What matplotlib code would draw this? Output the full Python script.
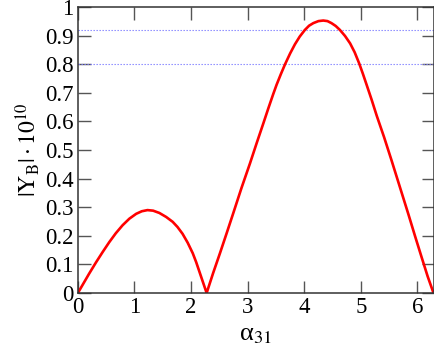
import matplotlib
matplotlib.use("Agg")
from matplotlib import pyplot as plt

plt.rcParams["font.family"] = ["Liberation Serif", "DejaVu Serif"]
plt.rcParams["mathtext.fontset"] = "stix"

# values
alpha = [0.0, 0.1, 0.2, 0.32, 0.44, 0.555, 0.67, 0.79, 0.91, 1.03, 1.13,
         1.23, 1.33, 1.44, 1.56, 1.675, 1.76, 1.85, 1.94, 2.03, 2.09, 2.145,
         2.21, 2.275,
         2.39, 2.51, 2.63, 2.745, 2.89, 3.04, 3.16, 3.276, 3.365, 3.45, 3.51,
         3.585, 3.66, 3.75, 3.835, 3.92, 4.01, 4.085, 4.16, 4.25, 4.335, 4.41,
         4.48, 4.555, 4.63, 4.72, 4.81, 4.89, 4.97, 5.035, 5.10, 5.19, 5.28,
         5.41, 5.54, 5.69, 5.84, 5.96, 6.07, 6.18, 6.283]
yb = [0.0, 0.034, 0.068, 0.107, 0.144, 0.178, 0.209, 0.237, 0.26, 0.277, 0.286,
      0.29, 0.288, 0.28, 0.266, 0.249, 0.231, 0.207, 0.176, 0.139, 0.108, 0.076,
      0.038, 0.0,
      0.07, 0.139, 0.21, 0.279, 0.367, 0.453, 0.525, 0.593, 0.646, 0.695, 0.728,
      0.765, 0.80, 0.838, 0.87, 0.897, 0.92, 0.935, 0.944, 0.951, 0.953, 0.951,
      0.944, 0.934, 0.92, 0.899, 0.873, 0.842, 0.803, 0.767, 0.729, 0.676, 0.62,
      0.545, 0.465, 0.37, 0.275, 0.197, 0.127, 0.058, 0.0]
hlines = [0.92, 0.80]

yticks = [0, 0.1, 0.2, 0.3, 0.4, 0.5, 0.6, 0.7, 0.8, 0.9, 1.0]
ylabels = ["0", "0.1", "0.2", "0.3", "0.4", "0.5", "0.6", "0.7", "0.8", "0.9", "1"]
xticks = [0, 1, 2, 3, 4, 5, 6]

fig = plt.figure(figsize=(4.35, 3.55), dpi=100)
ax = fig.add_axes([0.179, 0.1746, 0.8176, 0.8054])

for h in hlines:
    ax.axhline(h, color="#8080ff", lw=0.8, ls=(0, (1.2, 1.5)))

ax.plot(alpha, yb, color="#ff0000", lw=1.9, solid_joinstyle="round")

ax.set_xlim(0, 6.2832)
ax.set_ylim(0, 1)
ax.set_xticks(xticks)
ax.set_yticks(yticks, ylabels)
ax.tick_params(direction="in", length=9, width=1, color="#555555",
               top=True, right=True, labelsize=16.5, pad=3)
for s in ax.spines.values():
    s.set_color("#333333")
    s.set_linewidth(1.1)

ax.set_xlabel(r"α$_{31}$", fontsize=19, labelpad=4)
ax.set_ylabel(r"$|\mathrm{Y_B}| \cdot 10^{10}$", fontsize=17, labelpad=2)

fig.savefig("out.png", dpi=100)
